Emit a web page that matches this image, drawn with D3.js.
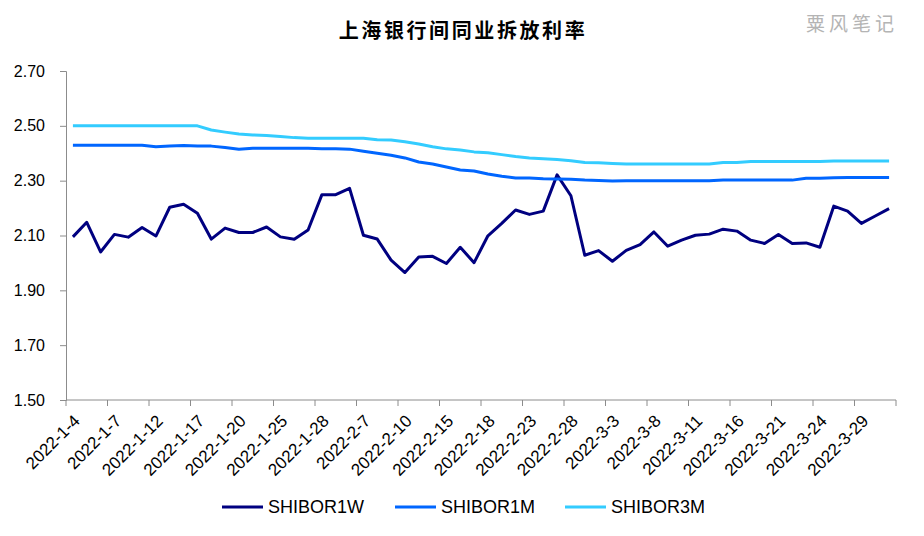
<!DOCTYPE html>
<html>
<head>
    <meta charset="utf-8">
    <script src="https://d3js.org/d3.v7.min.js"></script>
</head>
<body style="margin: 0; background-color: white;">

<div id="chart"></div>

<script>
    // trading days, 2022-1-4 .. 2022-3-31
    var dates = ["2022-1-4","2022-1-5","2022-1-6","2022-1-7","2022-1-10","2022-1-11","2022-1-12","2022-1-13","2022-1-14",
                 "2022-1-17","2022-1-18","2022-1-19","2022-1-20","2022-1-21","2022-1-24","2022-1-25","2022-1-26","2022-1-27",
                 "2022-1-28","2022-1-29","2022-1-30","2022-2-7","2022-2-8","2022-2-9","2022-2-10","2022-2-11","2022-2-14",
                 "2022-2-15","2022-2-16","2022-2-17","2022-2-18","2022-2-21","2022-2-22","2022-2-23","2022-2-24","2022-2-25",
                 "2022-2-28","2022-3-1","2022-3-2","2022-3-3","2022-3-4","2022-3-7","2022-3-8","2022-3-9","2022-3-10",
                 "2022-3-11","2022-3-14","2022-3-15","2022-3-16","2022-3-17","2022-3-18","2022-3-21","2022-3-22","2022-3-23",
                 "2022-3-24","2022-3-25","2022-3-28","2022-3-29","2022-3-30","2022-3-31"];

    var shibor1W = [2.095,2.148,2.040,2.104,2.094,2.129,2.098,2.203,2.214,2.181,2.087,2.127,2.111,2.111,2.131,2.095,2.086,2.120,
                    2.249,2.249,2.272,2.101,2.087,2.010,1.965,2.022,2.024,1.998,2.057,2.001,2.099,2.144,2.193,2.177,2.189,2.321,
                    2.245,2.028,2.045,2.006,2.046,2.067,2.113,2.061,2.083,2.101,2.105,2.123,2.116,2.083,2.071,2.104,2.071,2.073,
                    2.057,2.207,2.189,2.144,2.171,2.198];

    var shibor1M = [2.429,2.429,2.429,2.429,2.429,2.429,2.424,2.426,2.428,2.426,2.426,2.421,2.415,2.418,2.418,2.418,2.418,2.418,
                    2.416,2.416,2.415,2.407,2.400,2.393,2.383,2.368,2.361,2.350,2.339,2.335,2.324,2.316,2.310,2.310,2.307,2.306,
                    2.305,2.302,2.301,2.299,2.300,2.300,2.300,2.300,2.300,2.300,2.300,2.302,2.302,2.302,2.302,2.302,2.302,2.309,
                    2.309,2.311,2.312,2.312,2.312,2.312];

    var shibor3M = [2.500,2.500,2.500,2.500,2.500,2.500,2.500,2.500,2.500,2.500,2.485,2.477,2.470,2.467,2.465,2.461,2.457,2.455,
                    2.455,2.455,2.455,2.455,2.449,2.448,2.442,2.434,2.424,2.416,2.412,2.405,2.402,2.395,2.388,2.383,2.380,2.377,
                    2.373,2.366,2.365,2.363,2.361,2.361,2.361,2.361,2.361,2.361,2.361,2.366,2.366,2.370,2.370,2.370,2.370,2.370,
                    2.370,2.372,2.372,2.372,2.372,2.372];

    var seriesNames = ["SHIBOR1W", "SHIBOR1M", "SHIBOR3M"];
    var seriesColors = ["#000080", "#0066ff", "#33ccff"];
    var yTicks = [1.50, 1.70, 1.90, 2.10, 2.30, 2.50, 2.70];

    var width = 924, height = 536;
    var margin = {top: 71, right: 28, bottom: 136, left: 66};

    var svg = d3.select("#chart")
        .append("svg")
        .attr("width", width)
        .attr("height", height)
        .style("font-family", "Arial, 'Liberation Sans', sans-serif");

    // title + watermark
    svg.append("text")
       .attr("x", 463)
       .attr("y", 38)
       .attr("text-anchor", "middle")
       .style("font-family", "'Noto Sans CJK SC', serif")
       .style("font-size", "20px")
       .style("font-weight", "600")
       .style("letter-spacing", "2.6px")
       .text("上海银行间同业拆放利率");

    svg.append("text")
       .attr("x", 852)
       .attr("y", 31)
       .attr("text-anchor", "middle")
       .style("font-family", "'Noto Sans CJK SC', serif")
       .style("font-size", "19px")
       .style("letter-spacing", "4px")
       .style("fill", "#b4b4b4")
       .text("粟风笔记");

    // scales
    var x = d3.scaleBand()
              .domain(dates)
              .range([margin.left, width - margin.right]);

    var y = d3.scaleLinear()
              .domain([1.5, 2.7])
              .range([height - margin.bottom, margin.top]);

    var cx = function(d) { return x(d) + x.bandwidth() / 2; };

    // Y axis
    var yAxis = svg.append("g")
       .attr("transform", "translate(" + margin.left + ",0)")
       .call(d3.axisLeft(y).tickValues(yTicks).tickFormat(d3.format(".2f")).tickSize(6).tickPadding(15));
    yAxis.select(".domain").attr("stroke", "#8c8c8c");
    yAxis.selectAll(".tick line").attr("stroke", "#8c8c8c");
    yAxis.selectAll("text").style("font-size", "16px").attr("fill", "#000");

    // X axis: ticks at category boundaries every 3 days
    var n = dates.length;
    var boundary = d3.range(0, n + 1, 3);
    var xAxis = svg.append("g")
       .attr("transform", "translate(0," + (height - margin.bottom) + ")");
    xAxis.append("line")
       .attr("x1", margin.left).attr("x2", width - margin.right)
       .attr("stroke", "#8c8c8c");
    xAxis.selectAll(".tk")
       .data(boundary)
       .enter()
       .append("line")
       .attr("x1", function(i) { return margin.left + i * x.step(); })
       .attr("x2", function(i) { return margin.left + i * x.step(); })
       .attr("y1", 0).attr("y2", 6)
       .attr("stroke", "#8c8c8c");
    xAxis.selectAll(".lb")
       .data(dates.filter(function(d, i) { return i % 3 === 0; }))
       .enter()
       .append("text")
       .attr("transform", function(d) { return "translate(" + (cx(d) - 1) + ",13)rotate(-45)"; })
       .attr("text-anchor", "end")
       .attr("dy", "0.75em")
       .style("font-size", "17px")
       .text(function(d) { return d; });

    // lines
    var allSeries = [shibor1W, shibor1M, shibor3M];
    var line = d3.line()
        .x(function(d, i) { return cx(dates[i]); })
        .y(function(d) { return y(d); });

    svg.selectAll(".series")
       .data(allSeries)
       .enter()
       .append("path")
       .attr("d", function(d) { return line(d); })
       .attr("fill", "none")
       .attr("stroke", function(d, i) { return seriesColors[i]; })
       .attr("stroke-width", 3)
       .attr("stroke-linejoin", "round");

    // legend
    var legendX = [222, 395, 565];
    var legend = svg.selectAll(".legend")
       .data(seriesNames)
       .enter()
       .append("g")
       .attr("transform", function(d, i) { return "translate(" + legendX[i] + ",507)"; });
    legend.append("line")
       .attr("x1", 0).attr("x2", 41)
       .attr("stroke", function(d, i) { return seriesColors[i]; })
       .attr("stroke-width", 3);
    legend.append("text")
       .attr("x", 46)
       .attr("dy", "0.35em")
       .style("font-size", "18px")
       .text(function(d) { return d; });
</script>

</body>
</html>
